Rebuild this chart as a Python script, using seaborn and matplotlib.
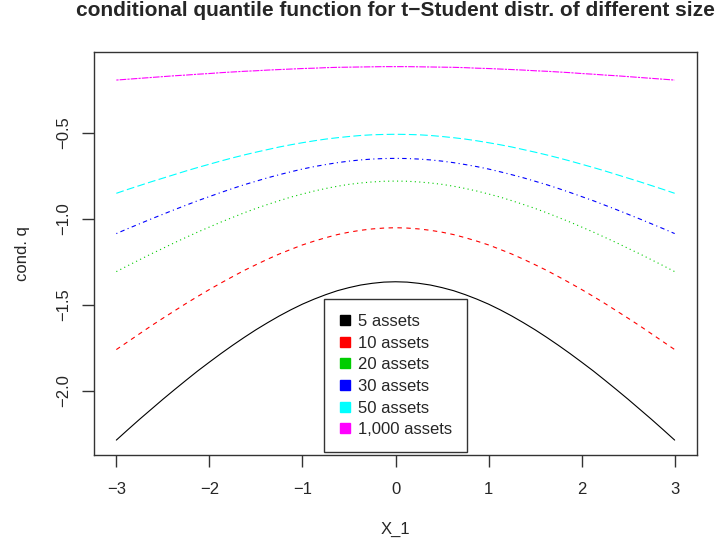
import numpy as np
import pandas as pd
import matplotlib
matplotlib.use("Agg")
import matplotlib.pyplot as plt
import seaborn as sns
from matplotlib.lines import Line2D

x_vals = [-3.0, -2.875, -2.75, -2.625, -2.5, -2.375, -2.25, -2.125, -2.0, -1.875, -1.75, -1.625,
          -1.5, -1.375, -1.25, -1.125, -1.0, -0.875, -0.75, -0.625, -0.5, -0.375, -0.25, -0.125,
          0.0,
          0.125, 0.25, 0.375, 0.5, 0.625, 0.75, 0.875, 1.0, 1.125, 1.25, 1.375, 1.5,
          1.625, 1.75, 1.875, 2.0, 2.125, 2.25, 2.375, 2.5, 2.625, 2.75, 2.875, 3.0]

q_5 = [-2.286, -2.225, -2.165, -2.107, -2.049, -1.993, -1.938, -1.884, -1.833, -1.783, -1.735, -1.689,
       -1.645, -1.604, -1.565, -1.529, -1.496, -1.467, -1.441, -1.418, -1.400, -1.385, -1.375, -1.368,
       -1.366,
       -1.368, -1.375, -1.385, -1.400, -1.418, -1.441, -1.467, -1.496, -1.529, -1.565, -1.604, -1.645,
       -1.689, -1.735, -1.783, -1.833, -1.884, -1.938, -1.993, -2.049, -2.107, -2.165, -2.225, -2.286]
q_10 = [-1.760, -1.714, -1.668, -1.622, -1.578, -1.535, -1.492, -1.451, -1.411, -1.373, -1.336, -1.300,
        -1.267, -1.235, -1.205, -1.178, -1.152, -1.130, -1.110, -1.092, -1.078, -1.067, -1.059, -1.054,
        -1.052,
        -1.054, -1.059, -1.067, -1.078, -1.092, -1.110, -1.130, -1.152, -1.178, -1.205, -1.235, -1.267,
        -1.300, -1.336, -1.373, -1.411, -1.451, -1.492, -1.535, -1.578, -1.622, -1.668, -1.714, -1.760]
q_20 = [-1.307, -1.272, -1.238, -1.204, -1.172, -1.139, -1.108, -1.077, -1.048, -1.019, -0.992, -0.965,
        -0.940, -0.917, -0.895, -0.874, -0.856, -0.839, -0.824, -0.811, -0.800, -0.792, -0.786, -0.782,
        -0.781,
        -0.782, -0.786, -0.792, -0.800, -0.811, -0.824, -0.839, -0.856, -0.874, -0.895, -0.917, -0.940,
        -0.965, -0.992, -1.019, -1.048, -1.077, -1.108, -1.139, -1.172, -1.204, -1.238, -1.272, -1.307]
q_30 = [-1.086, -1.057, -1.029, -1.001, -0.974, -0.947, -0.921, -0.895, -0.871, -0.847, -0.824, -0.802,
        -0.782, -0.762, -0.744, -0.727, -0.711, -0.697, -0.685, -0.674, -0.665, -0.658, -0.653, -0.650,
        -0.649,
        -0.650, -0.653, -0.658, -0.665, -0.674, -0.685, -0.697, -0.711, -0.727, -0.744, -0.762, -0.782,
        -0.802, -0.824, -0.847, -0.871, -0.895, -0.921, -0.947, -0.974, -1.001, -1.029, -1.057, -1.086]
q_50 = [-0.852, -0.829, -0.807, -0.785, -0.764, -0.743, -0.722, -0.702, -0.683, -0.664, -0.646, -0.629,
        -0.613, -0.598, -0.583, -0.570, -0.558, -0.547, -0.537, -0.529, -0.522, -0.516, -0.512, -0.510,
        -0.509,
        -0.510, -0.512, -0.516, -0.522, -0.529, -0.537, -0.547, -0.558, -0.570, -0.583, -0.598, -0.613,
        -0.629, -0.646, -0.664, -0.683, -0.702, -0.722, -0.743, -0.764, -0.785, -0.807, -0.829, -0.852]
q_1000 = [-0.194, -0.189, -0.184, -0.179, -0.174, -0.169, -0.165, -0.160, -0.156, -0.151, -0.147, -0.143,
          -0.140, -0.136, -0.133, -0.130, -0.127, -0.125, -0.122, -0.120, -0.119, -0.118, -0.117, -0.116,
          -0.116,
          -0.116, -0.117, -0.118, -0.119, -0.120, -0.122, -0.125, -0.127, -0.130, -0.133, -0.136, -0.140,
          -0.143, -0.147, -0.151, -0.156, -0.160, -0.165, -0.169, -0.174, -0.179, -0.184, -0.189, -0.194]

labels = ["5 assets", "10 assets", "20 assets", "30 assets", "50 assets", "1,000 assets"]
series = [q_5, q_10, q_20, q_30, q_50, q_1000]
colors = ["#000000", "#FF0000", "#00CD00", "#0000FF", "#00FFFF", "#FF00FF"]
styles = ["-", (0, (4, 4)), (0, (1, 3)), (0, (1, 3, 4, 3)), (0, (7, 3)), (0, (2, 1, 6, 1))]

x_ticks = [-3, -2, -1, 0, 1, 2, 3]
y_ticks = [-2.0, -1.5, -1.0, -0.5]

sns.set_style("white")
plt.rcParams["font.family"] = ["Liberation Sans", "DejaVu Sans"]

W, H = 718, 547
fig = plt.figure(figsize=(W / 100, H / 100), dpi=100)
ax = fig.add_axes([94 / W, 1 - 455 / H, (697 - 94) / W, (455 - 51.7) / H])

for lab, ys, c, ls in zip(labels, series, colors, styles):
    df = pd.DataFrame({"x": x_vals, "q": ys})
    sns.lineplot(data=df, x="x", y="q", ax=ax, color=c, linestyle=ls, linewidth=0.8,
                 legend=False, errorbar=None, sort=False)

ax.set_xlim(-3.24, 3.24)
ax.set_ylim(-2.3726, -0.0292)
ax.set_xticks(x_ticks)
ax.set_xticklabels([f"{v:d}".replace("-", "\u2212") for v in x_ticks])
ax.set_yticks(y_ticks)
ax.set_yticklabels([f"{v:.1f}".replace("-", "\u2212") for v in y_ticks], rotation=90, va="center")
for s in ax.spines.values():
    s.set_color("#333333")
    s.set_linewidth(1.0)
ax.tick_params(axis="both", which="major", direction="out", length=8.3, width=1.0,
               color="#333333", labelsize=12, bottom=True, left=True)
ax.tick_params(axis="x", pad=11.5)
ax.tick_params(axis="y", pad=8)
ax.set_xlabel("X_1", fontsize=12, labelpad=17.5)
ax.set_ylabel("cond. q", fontsize=12, labelpad=19)

fig.text((94 + 697) / 2 / W, 1 - 1 / H,
         "conditional quantile function for t\u2212Student distr. of different size",
         ha="center", va="top", fontsize=15, fontweight="bold")

handles = [Line2D([], [], marker="s", linestyle="none", color=c, markersize=7) for c in colors]
leg = ax.legend(handles, labels, loc="lower center", bbox_to_anchor=(0.5, 0.0),
                frameon=True, fancybox=False, edgecolor="black", fontsize=12,
                handletextpad=0.45, labelspacing=0.4, borderpad=0.87, handlelength=0.7,
                borderaxespad=0.2)
leg.get_frame().set_linewidth(1.0)

fig.savefig("out.png", dpi=100)
